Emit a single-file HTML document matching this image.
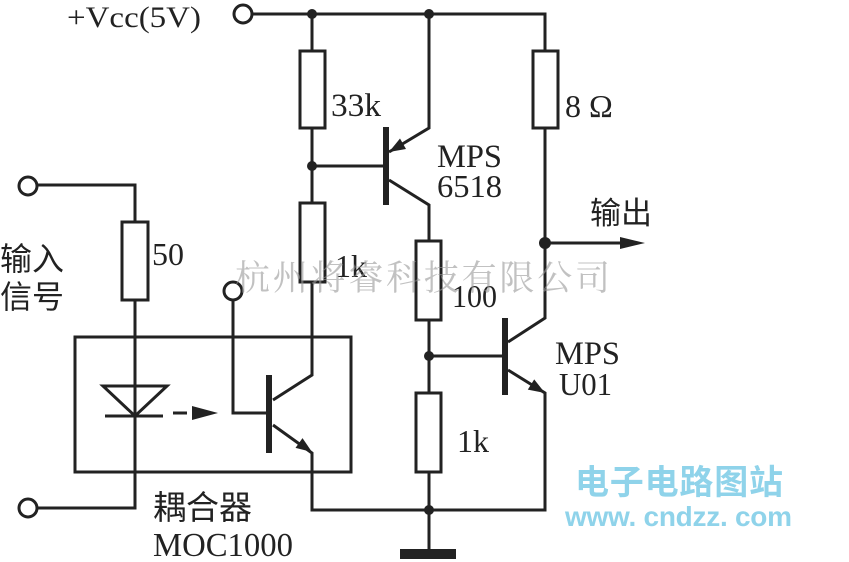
<!DOCTYPE html>
<html><head><meta charset="utf-8"><style>
html,body{margin:0;padding:0;background:#fff;}
svg{display:block;}
text{font-family:"Liberation Serif","Noto Serif CJK SC",serif;fill:#222;}
.cj{font-family:"Liberation Serif","Noto Sans CJK SC",sans-serif;}
</style></head><body>
<svg width="849" height="562" viewBox="0 0 849 562" xmlns="http://www.w3.org/2000/svg">
<g stroke="#222" stroke-width="3" fill="none">
<circle cx="243" cy="14" r="9"/>
<path d="M252 14H545V51"/>
<path d="M312 14V51M312 128V203"/>
<rect x="300" y="51" width="25" height="77" fill="#fff"/>
<rect x="533" y="51" width="25" height="77" fill="#fff"/>
<path d="M545 128V318L508 342"/>
<path d="M312 166H386"/>
<path d="M429 14V128L389 152"/>
<path d="M389 180L429 205V241"/>
<rect x="416" y="241" width="25" height="79" fill="#fff"/>
<path d="M429 320V393"/>
<path d="M429 356H505"/>
<rect x="416" y="393" width="25" height="79" fill="#fff"/>
<path d="M429 472V550"/>
<path d="M508 370L545 393V510H312V453L273 425"/>
<rect x="300" y="203" width="25" height="79" fill="#fff"/>
<path d="M312 282V375L273 400"/>
<circle cx="233" cy="291" r="9"/>
<path d="M233 300V413H268"/>
<circle cx="28" cy="186" r="9"/>
<path d="M37 185H135V222"/>
<rect x="122" y="222" width="26" height="78" fill="#fff"/>
<path d="M135 300V508H37"/>
<circle cx="28" cy="508" r="9"/>
<rect x="75" y="337" width="276" height="135"/>
<path d="M103 386H167L135 416Z"/>
<path d="M105 416H163"/>
<path d="M173 413H187M192 413H200"/>
<path d="M545 243H625"/>
</g>
<g fill="#222">
<rect x="383" y="127" width="6" height="78"/>
<rect x="266" y="375" width="6" height="78"/>
<rect x="502" y="318" width="6" height="77"/>
<rect x="400" y="549" width="56" height="10"/>
<circle cx="312" cy="14" r="5"/><circle cx="429" cy="14" r="5"/>
<circle cx="312" cy="166" r="5"/><circle cx="429" cy="356" r="5"/>
<circle cx="429" cy="510" r="5"/><circle cx="545" cy="243" r="6"/>
<path d="M192 406L218 413L192 420Z"/>
<path d="M620 237L645 243L620 249Z"/>
<path d="M389 152L406 149L400 138.5Z"/>
<path d="M312 452L295.5 447.9L302.5 438.1Z"/>
<path d="M545 393L527.8 389.6L534.2 379.4Z"/>
</g>
<text x="67" y="27" font-size="30" textLength="134" lengthAdjust="spacingAndGlyphs">+Vcc(5V)</text>
<text x="331" y="116" font-size="33" textLength="50" lengthAdjust="spacingAndGlyphs">33k</text>
<text x="565" y="117" font-size="32">8 Ω</text>
<text x="437" y="167" font-size="33" textLength="65" lengthAdjust="spacingAndGlyphs">MPS</text>
<text x="437" y="197" font-size="32" textLength="65" lengthAdjust="spacingAndGlyphs">6518</text>
<text x="590" y="224" font-size="31" class="cj">输出</text>
<text x="152" y="265" font-size="32">50</text>
<text x="0" y="270" font-size="32" class="cj">输入</text>
<text x="0" y="308" font-size="32" class="cj">信号</text>
<text x="335" y="277" font-size="32">1k</text>
<text x="452" y="307" font-size="32" textLength="45" lengthAdjust="spacingAndGlyphs">100</text>
<text x="555" y="364" font-size="33" textLength="65" lengthAdjust="spacingAndGlyphs">MPS</text>
<text x="559" y="395" font-size="32" textLength="53" lengthAdjust="spacingAndGlyphs">U01</text>
<text x="457" y="452" font-size="32">1k</text>
<text x="153" y="519" font-size="33" class="cj">耦合器</text>
<text x="153" y="556" font-size="34" textLength="140" lengthAdjust="spacingAndGlyphs">MOC1000</text>
<text x="235" y="290" font-size="35" style="fill:#999;opacity:0.6" textLength="375">杭州将睿科技有限公司</text>
<text x="575" y="494" font-size="34" class="cj" style="fill:#8fd3ea;font-weight:bold" textLength="208">电子电路图站</text>
<text x="565" y="526" font-size="28" style="fill:#8fd3ea;font-weight:bold;font-family:'Liberation Sans',sans-serif" textLength="227">www. cndzz. com</text>
</svg>
</body></html>
